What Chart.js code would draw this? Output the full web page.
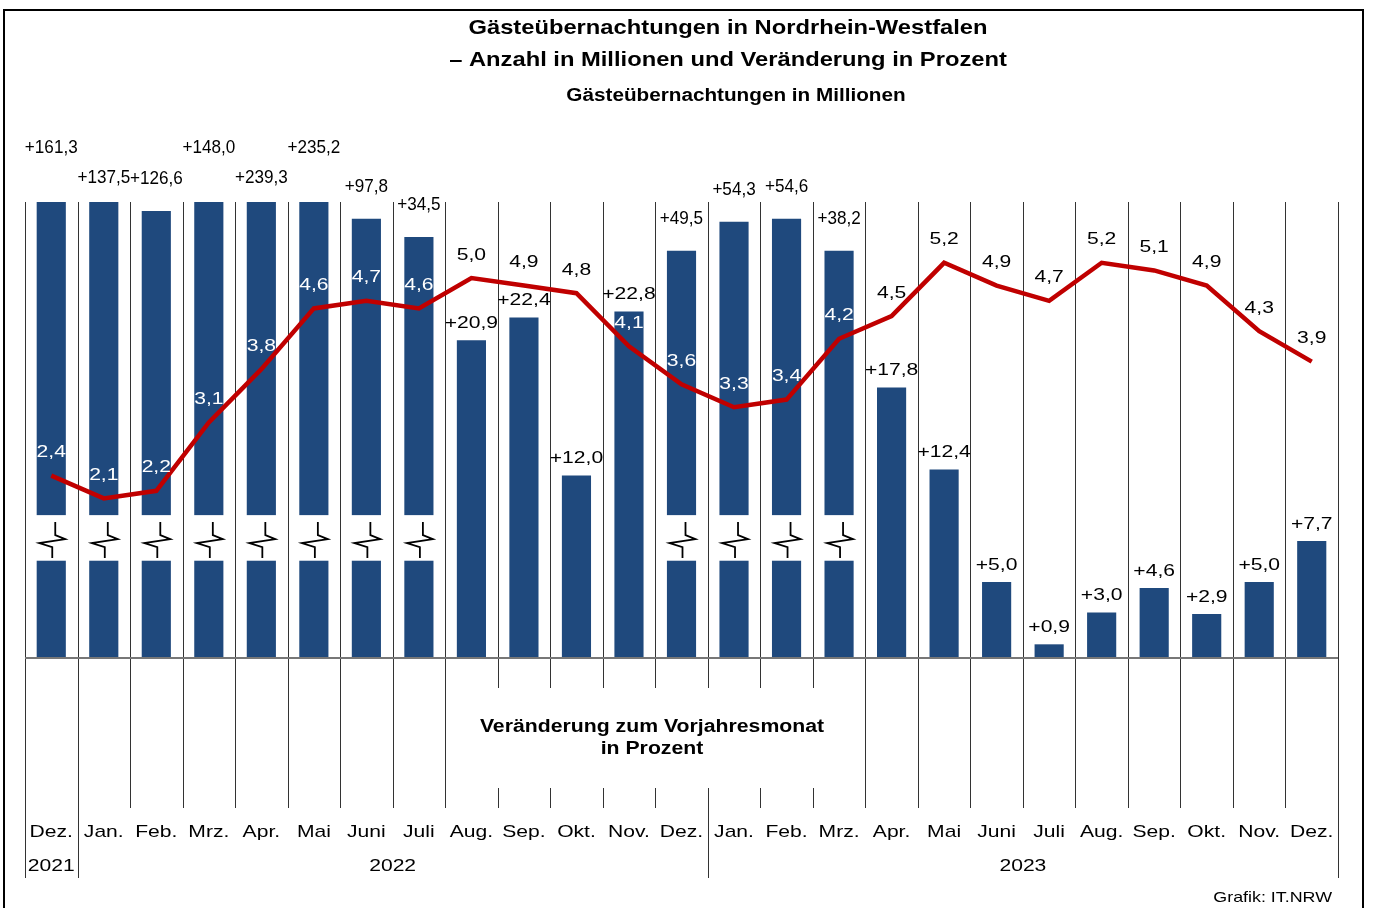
<!DOCTYPE html>
<html lang="de">
<head>
<meta charset="utf-8">
<title>Gästeübernachtungen in Nordrhein-Westfalen</title>
<script src="https://cdn.jsdelivr.net/npm/chart.js@4.4.1/dist/chart.umd.min.js"></script>
<style>
  html, body { margin: 0; padding: 0; background: #fff; }
  #wrap { width: 1373px; height: 908px; }
</style>
</head>
<body>
<div id="wrap"><canvas id="chart" width="1373" height="908"></canvas></div>
<script>
// Monate Dez. 2021 bis Dez. 2023
const monate = ["Dez.", "Jan.", "Feb.", "Mrz.", "Apr.", "Mai", "Juni", "Juli", "Aug.", "Sep.", "Okt.", "Nov.", "Dez.",
  "Jan.", "Feb.", "Mrz.", "Apr.", "Mai", "Juni", "Juli", "Aug.", "Sep.", "Okt.", "Nov.", "Dez."];
const jahre = ["2021",
  "2022", "2022", "2022", "2022", "2022", "2022", "2022", "2022", "2022", "2022", "2022", "2022",
  "2023", "2023", "2023", "2023", "2023", "2023", "2023", "2023", "2023", "2023", "2023", "2023"];

// Gästeübernachtungen in Millionen (Linie)
const naechte = [2.4, 2.1, 2.2, 3.1, 3.8, 4.6, 4.7, 4.6, 5.0, 4.9, 4.8, 4.1, 3.6,
  3.3, 3.4, 4.2, 4.5, 5.2, 4.9, 4.7, 5.2, 5.1, 4.9, 4.3, 3.9];

// Veränderung zum Vorjahresmonat in Prozent (Säulen)
const veraenderung = [161.3, 137.5, 126.6, 148.0, 239.3, 235.2, 97.8, 34.5, 20.9, 22.4, 12.0, 22.8, 49.5,
  54.3, 54.6, 38.2, 17.8, 12.4, 5.0, 0.9, 3.0, 4.6, 2.9, 5.0, 7.7];

// gekürzte Säulenhöhe bei unterbrochener Achse (wie im Bild), sonst null
const gekuerzt = [30, 30, 29.4, 30, 30, 30, 28.9, 27.7, null, null, null, null, 26.8,
  28.7, 28.9, 26.8, null, null, null, null, null, null, null, null, null];

const prozentMax = 30;
const mioMax = 6;
const bruchVon = 6.4, bruchBis = 9.4; // Lücke in den unterbrochenen Säulen

const balken = veraenderung.map((v, i) => (gekuerzt[i] !== null ? gekuerzt[i] : v));

const BLAU = "#1f497d";
const ROT = "#c00000";

function komma(v) {
  return v.toFixed(1).replace(".", ",");
}

function text(ctx, s, x, y, font, color, sx, align) {
  ctx.save();
  ctx.font = font;
  ctx.fillStyle = color;
  ctx.textBaseline = "middle";
  ctx.textAlign = align || "center";
  ctx.translate(x, y);
  ctx.scale(sx, 1);
  ctx.fillText(s, 0, 0);
  ctx.restore();
}

const FONT = '"Liberation Sans", Arial, sans-serif';

const deko = {
  id: "deko",
  beforeDatasetsDraw(chart) {
    const ctx = chart.ctx;
    const a = chart.chartArea;
    const x = chart.scales.x;
    const w = x.getPixelForValue(1) - x.getPixelForValue(0);

    // Textblock unter der Achse unterbricht die Linien
    ctx.save();
    ctx.font = "bold 18px " + FONT;
    const tb = ctx.measureText("Veränderung zum Vorjahresmonat").width * 1.18;
    ctx.restore();
    const tx = 652;

    ctx.save();
    ctx.strokeStyle = "rgba(0,0,0,0.8)";
    ctx.lineWidth = 1;
    for (let k = 0; k <= monate.length; k++) {
      const px = Math.round(x.getPixelForValue(0) - w / 2 + k * w) + 0.5;
      const jahrGrenze = k === 0 || k === monate.length || jahre[k] !== jahre[k - 1];
      const ende = jahrGrenze ? a.bottom + 220 : a.bottom + 150;
      const unterbrochen = px > tx - tb / 2 - 10 && px < tx + tb / 2 + 10;
      ctx.beginPath();
      if (unterbrochen) {
        ctx.moveTo(px, a.top);
        ctx.lineTo(px, a.bottom + 30);
        ctx.moveTo(px, a.bottom + 130);
        ctx.lineTo(px, ende);
      } else {
        ctx.moveTo(px, a.top);
        ctx.lineTo(px, ende);
      }
      ctx.stroke();
    }
    ctx.restore();
  },
  afterDatasetDraw(chart, args) {
    if (args.index !== 0) return;
    const ctx = chart.ctx;
    const a = chart.chartArea;
    const yBar = chart.scales.yBar;
    const meta = chart.getDatasetMeta(0);
    const oben = yBar.getPixelForValue(bruchBis);
    const unten = yBar.getPixelForValue(bruchVon);

    ctx.save();
    meta.data.forEach((bar, i) => {
      if (gekuerzt[i] === null) return;
      const cx = bar.x;
      ctx.fillStyle = "#fff";
      ctx.fillRect(cx - bar.width / 2 - 1, oben, bar.width + 2, unten - oben);
      // Bruchzeichen
      ctx.strokeStyle = "#000";
      ctx.lineWidth = 1.8;
      ctx.lineJoin = "miter";
      ctx.beginPath();
      ctx.moveTo(cx + 4, oben + 7);
      ctx.lineTo(cx + 4, oben + 20);
      ctx.lineTo(cx + 14, oben + 24);
      ctx.lineTo(cx - 12, oben + 28);
      ctx.lineTo(cx + 1, oben + 32);
      ctx.lineTo(cx + 1, oben + 43);
      ctx.stroke();
    });

    // Nulllinie
    ctx.strokeStyle = "#777";
    ctx.lineWidth = 2;
    ctx.beginPath();
    ctx.moveTo(a.left, a.bottom);
    ctx.lineTo(a.right, a.bottom);
    ctx.stroke();
    ctx.restore();
  },
  afterDatasetsDraw(chart) {
    const ctx = chart.ctx;
    const barMeta = chart.getDatasetMeta(0);
    const lineMeta = chart.getDatasetMeta(1);

    // Säulenbeschriftung; über abgeschnittenen Säulen abwechselnd hoch und tief
    let n = 0;
    barMeta.data.forEach((bar, i) => {
      const s = "+" + komma(veraenderung[i]);
      if (gekuerzt[i] !== null) {
        let dy = 32;
        if (gekuerzt[i] >= prozentMax) {
          dy = n % 2 === 0 ? 54 : 24;
          n++;
        }
        text(ctx, s, bar.x, bar.y - dy, "19px " + FONT, "#000", 0.9);
      } else {
        text(ctx, s, bar.x, bar.y - 17, "17px " + FONT, "#000", 1.24);
      }
    });

    // Linienbeschriftung
    lineMeta.data.forEach((pt, i) => {
      const ly = pt.y - 23;
      const imBalken = barMeta.data[i].y < ly - 6;
      text(ctx, komma(naechte[i]), pt.x, ly, "17px " + FONT, imBalken ? "#fff" : "#000", 1.24);
    });
  },
  afterDraw(chart) {
    const ctx = chart.ctx;
    const a = chart.chartArea;
    const x = chart.scales.x;

    text(ctx, "Gästeübernachtungen in Nordrhein-Westfalen", 728, 28, "bold 21px " + FONT, "#000", 1.13);
    text(ctx, "– Anzahl in Millionen und Veränderung in Prozent", 728, 60, "bold 21px " + FONT, "#000", 1.13);
    text(ctx, "Gästeübernachtungen in Millionen", 736, 96, "bold 18px " + FONT, "#000", 1.15);

    text(ctx, "Veränderung zum Vorjahresmonat", 652, 727, "bold 18px " + FONT, "#000", 1.18);
    text(ctx, "in Prozent", 652, 749, "bold 18px " + FONT, "#000", 1.18);

    monate.forEach((m, i) => {
      text(ctx, m, x.getPixelForValue(i), a.bottom + 174, "17px " + FONT, "#000", 1.24);
    });

    // Jahre mittig unter ihren Monaten
    let start = 0;
    for (let i = 1; i <= jahre.length; i++) {
      if (i === jahre.length || jahre[i] !== jahre[start]) {
        const mitte = (x.getPixelForValue(start) + x.getPixelForValue(i - 1)) / 2;
        text(ctx, jahre[start], mitte, a.bottom + 208, "17px " + FONT, "#000", 1.24);
        start = i;
      }
    }

    text(ctx, "Grafik: IT.NRW", 1332, 898, "15px " + FONT, "#000", 1.19, "right");

    // Rahmen
    ctx.save();
    ctx.strokeStyle = "#000";
    ctx.lineWidth = 2;
    ctx.strokeRect(4, 10, 1359, 920);
    ctx.restore();
  }
};

new Chart(document.getElementById("chart"), {
  type: "bar",
  data: {
    labels: monate,
    datasets: [
      {
        type: "bar",
        data: balken,
        yAxisID: "yBar",
        backgroundColor: BLAU,
        barPercentage: 0.555,
        categoryPercentage: 1,
        order: 2
      },
      {
        type: "line",
        data: naechte,
        yAxisID: "yLine",
        borderColor: ROT,
        borderWidth: 4.5,
        pointRadius: 0,
        tension: 0,
        fill: false,
        order: 1
      }
    ]
  },
  options: {
    responsive: false,
    animation: false,
    devicePixelRatio: 1,
    events: [],
    layout: { padding: { left: 25, right: 35, top: 202, bottom: 250 } },
    plugins: {
      legend: { display: false },
      tooltip: { enabled: false },
      title: { display: false }
    },
    scales: {
      x: { display: false, offset: true },
      yBar: { display: false, min: 0, max: prozentMax },
      yLine: { display: false, min: 0, max: mioMax }
    }
  },
  plugins: [deko]
});
</script>
</body>
</html>
